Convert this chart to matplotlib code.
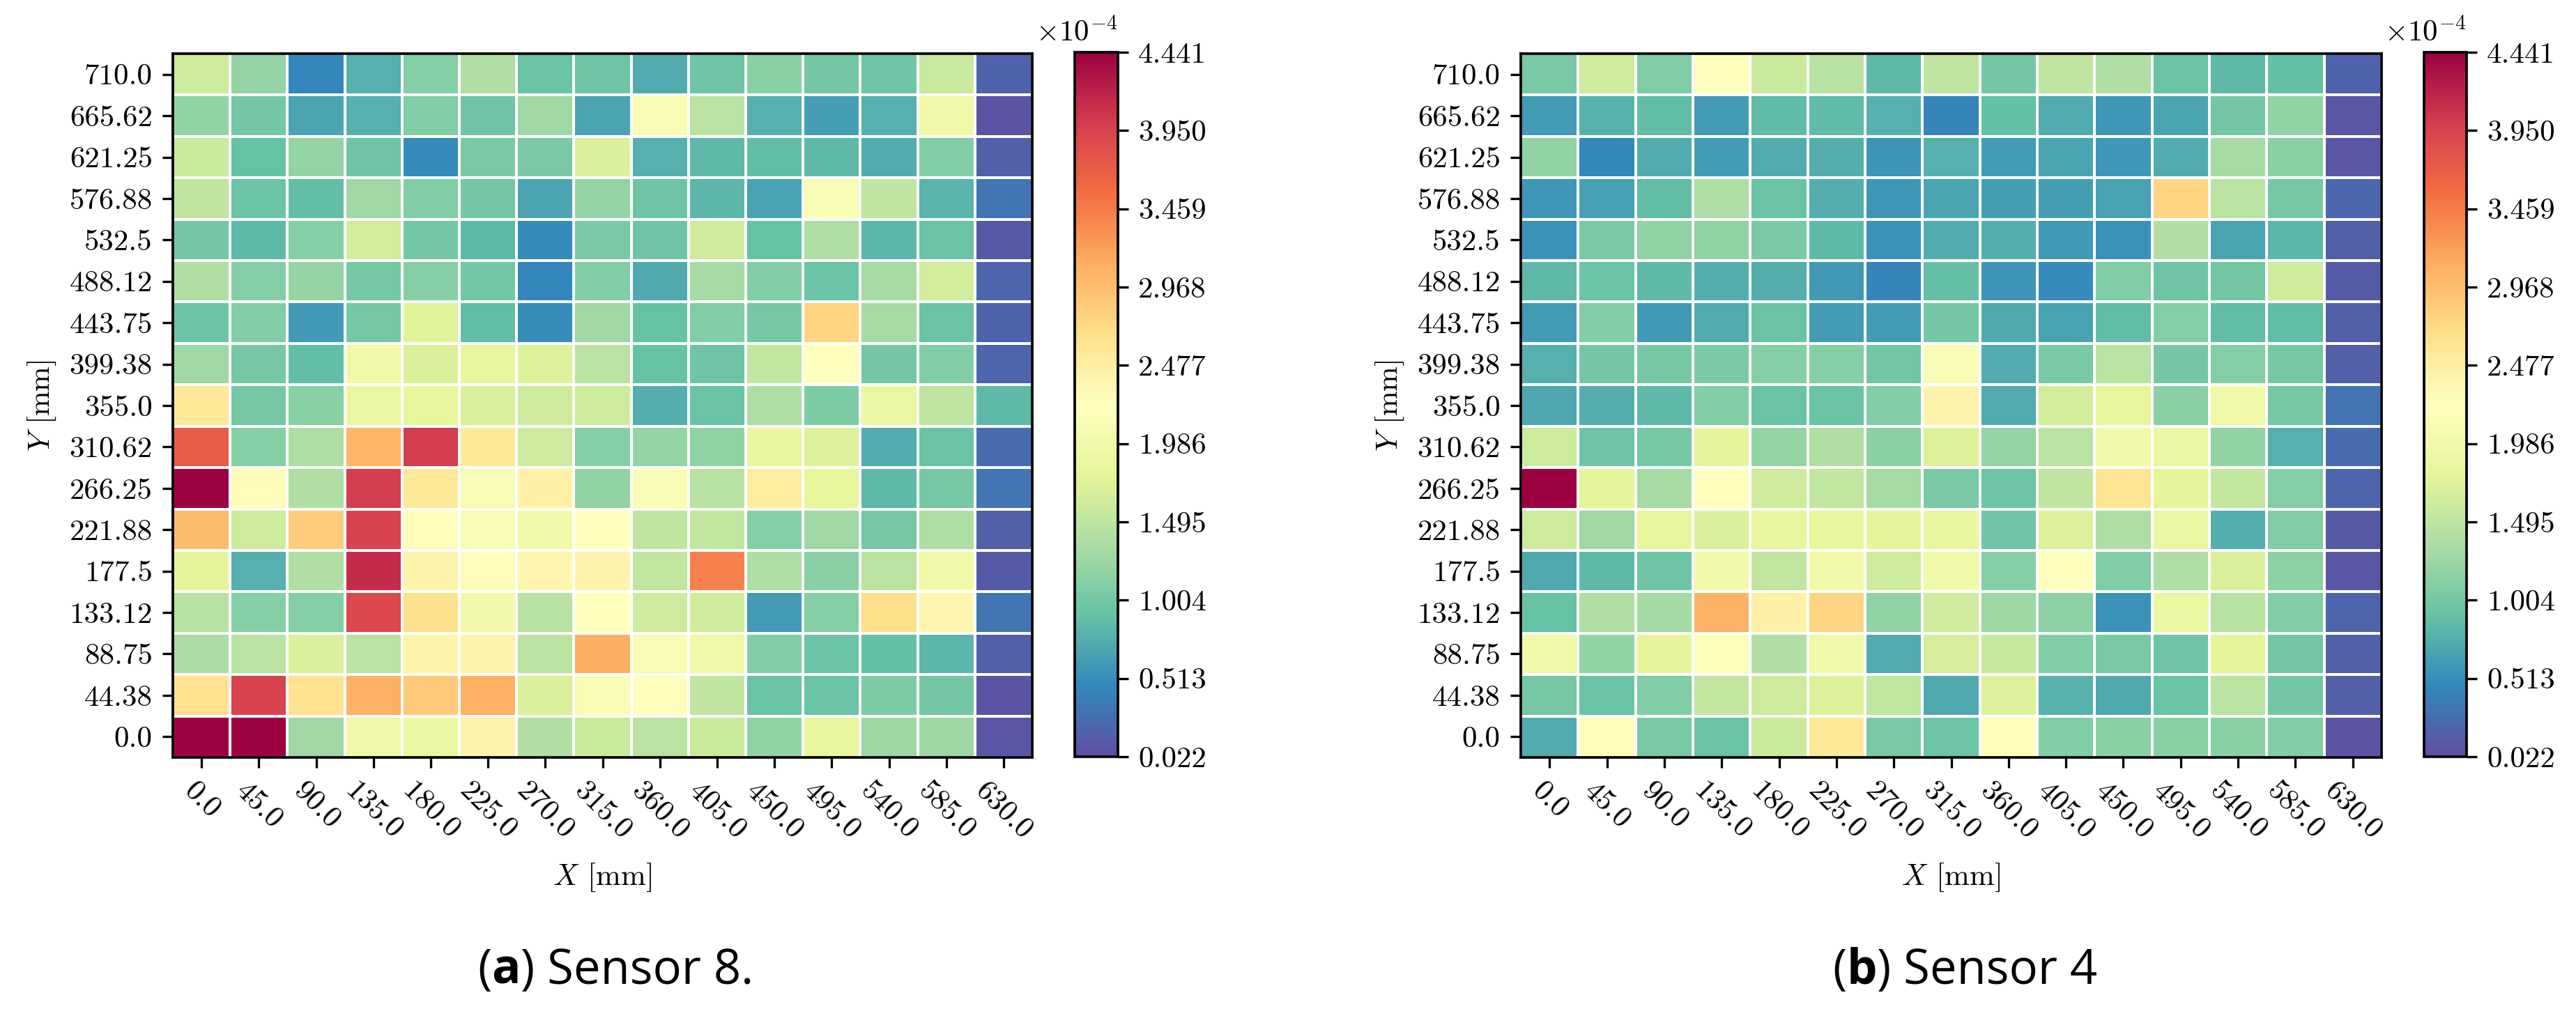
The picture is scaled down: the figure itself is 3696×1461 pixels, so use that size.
import numpy as np
import matplotlib
matplotlib.use("Agg")
import matplotlib.pyplot as plt

plt.rcParams["font.family"] = ["cmr10", "DejaVu Serif"]
plt.rcParams["mathtext.fontset"] = "cm"
plt.rcParams["axes.unicode_minus"] = False
plt.rcParams["axes.formatter.use_mathtext"] = True

# ---------------- data (values in units of 1e-4) ----------------
x_labels = ["0.0", "45.0", "90.0", "135.0", "180.0", "225.0", "270.0", "315.0",
            "360.0", "405.0", "450.0", "495.0", "540.0", "585.0", "630.0"]
y_labels = ["710.0", "665.62", "621.25", "576.88", "532.5", "488.12", "443.75",
            "399.38", "355.0", "310.62", "266.25", "221.88", "177.5", "133.12",
            "88.75", "44.38", "0.0"]  # top to bottom

sensor8 = [
    [1.60, 1.20, 0.47, 0.78, 1.10, 1.39, 0.92, 0.96, 0.73, 0.96, 1.13, 1.00, 0.97, 1.56, 0.18],
    [1.18, 1.00, 0.68, 0.78, 1.08, 0.96, 1.27, 0.68, 2.10, 1.47, 0.78, 0.63, 0.77, 1.97, 0.06],
    [1.58, 0.91, 1.20, 0.96, 0.50, 1.04, 1.04, 1.70, 0.77, 0.85, 0.87, 0.85, 0.73, 1.08, 0.15],
    [1.50, 0.95, 0.87, 1.28, 1.08, 1.00, 0.68, 1.20, 0.97, 0.83, 0.67, 2.10, 1.50, 0.80, 0.33],
    [1.00, 0.85, 1.12, 1.63, 1.00, 0.85, 0.49, 1.04, 0.97, 1.62, 0.91, 1.37, 0.83, 0.92, 0.12],
    [1.40, 1.10, 1.20, 1.02, 1.12, 0.98, 0.46, 1.08, 0.72, 1.32, 1.09, 0.94, 1.33, 1.63, 0.20],
    [0.95, 1.08, 0.60, 1.02, 1.75, 0.87, 0.52, 1.27, 0.91, 1.08, 1.02, 2.75, 1.32, 0.92, 0.19],
    [1.27, 1.02, 0.88, 1.97, 1.70, 1.85, 1.73, 1.47, 0.91, 0.97, 1.52, 2.20, 0.99, 1.08, 0.21],
    [2.55, 1.02, 1.13, 1.87, 1.83, 1.70, 1.60, 1.60, 0.76, 0.92, 1.38, 1.06, 1.87, 1.50, 0.84],
    [3.70, 1.12, 1.38, 3.05, 4.00, 2.55, 1.60, 1.12, 1.20, 1.17, 1.85, 1.72, 0.73, 0.93, 0.25],
    [4.441, 2.30, 1.40, 4.00, 2.55, 2.10, 2.45, 1.18, 2.10, 1.45, 2.50, 1.83, 0.85, 1.02, 0.33],
    [3.00, 1.60, 2.85, 3.95, 2.25, 2.10, 2.00, 2.23, 1.50, 1.52, 1.10, 1.28, 1.02, 1.37, 0.16],
    [1.80, 0.78, 1.40, 4.12, 2.40, 2.28, 2.38, 2.40, 1.52, 3.42, 1.37, 1.14, 1.46, 1.97, 0.12],
    [1.45, 1.12, 1.10, 3.90, 2.65, 2.00, 1.45, 2.23, 1.60, 1.62, 0.62, 1.10, 2.68, 2.38, 0.33],
    [1.36, 1.47, 1.70, 1.46, 2.40, 2.40, 1.46, 3.10, 2.10, 1.97, 1.08, 0.94, 0.90, 0.83, 0.15],
    [2.63, 3.95, 2.63, 3.08, 2.87, 3.08, 1.70, 2.10, 2.25, 1.50, 0.93, 0.93, 1.07, 0.99, 0.06],
    [4.441, 4.441, 1.28, 1.97, 1.90, 2.40, 1.39, 1.58, 1.47, 1.58, 1.17, 1.85, 1.26, 1.26, 0.08],
]

sensor4 = [
    [1.04, 1.62, 1.08, 2.22, 1.58, 1.45, 0.84, 1.50, 0.99, 1.50, 1.39, 0.93, 0.84, 0.90, 0.18],
    [0.61, 0.79, 0.88, 0.62, 0.86, 0.86, 0.77, 0.45, 0.90, 0.74, 0.59, 0.68, 0.99, 1.18, 0.08],
    [1.19, 0.47, 0.73, 0.62, 0.74, 0.76, 0.57, 0.78, 0.61, 0.68, 0.59, 0.74, 1.32, 1.13, 0.08],
    [0.59, 0.66, 0.87, 1.38, 0.93, 0.75, 0.58, 0.68, 0.63, 0.63, 0.67, 2.75, 1.47, 1.02, 0.22],
    [0.55, 1.04, 1.18, 1.17, 1.04, 0.85, 0.55, 0.74, 0.76, 0.60, 0.54, 1.40, 0.68, 0.83, 0.15],
    [0.85, 0.93, 0.85, 0.76, 0.76, 0.60, 0.45, 0.90, 0.56, 0.50, 1.08, 0.97, 1.00, 1.62, 0.14],
    [0.61, 1.08, 0.60, 0.74, 0.92, 0.61, 0.61, 1.00, 0.72, 0.67, 0.88, 1.10, 0.88, 0.88, 0.15],
    [0.77, 0.99, 1.02, 1.05, 1.12, 1.12, 0.98, 2.10, 0.73, 1.04, 1.46, 0.99, 1.10, 1.02, 0.15],
    [0.70, 0.75, 0.85, 1.08, 0.93, 0.93, 1.08, 2.40, 0.74, 1.63, 1.83, 1.13, 1.97, 1.02, 0.30],
    [1.60, 0.97, 1.02, 1.80, 1.20, 1.39, 1.14, 1.72, 1.20, 1.46, 2.00, 1.88, 1.18, 0.77, 0.25],
    [4.441, 1.80, 1.33, 2.23, 1.62, 1.52, 1.33, 1.04, 0.97, 1.50, 2.60, 1.80, 1.53, 1.10, 0.20],
    [1.60, 1.27, 1.85, 1.70, 1.85, 1.83, 1.80, 1.85, 0.96, 1.72, 1.37, 1.88, 0.75, 1.08, 0.12],
    [0.72, 0.85, 0.96, 2.00, 1.52, 2.00, 1.60, 1.97, 1.12, 2.23, 1.08, 1.37, 1.70, 1.16, 0.08],
    [0.91, 1.40, 1.30, 3.07, 2.45, 2.75, 1.19, 1.62, 1.25, 1.16, 0.54, 1.87, 1.44, 1.08, 0.20],
    [1.97, 1.19, 1.80, 2.15, 1.39, 1.97, 0.74, 1.67, 1.55, 1.08, 1.04, 0.96, 1.80, 0.99, 0.15],
    [1.02, 0.95, 1.08, 1.52, 1.60, 1.72, 1.52, 0.72, 1.72, 0.79, 0.72, 0.92, 1.47, 0.99, 0.15],
    [0.74, 2.25, 1.04, 0.92, 1.58, 2.55, 1.04, 0.96, 2.23, 1.08, 1.13, 1.13, 1.13, 1.08, 0.06],
]

vmin, vmax = 0.022, 4.441
cbar_ticks = np.linspace(vmin, vmax, 10)
captions = [("a", "Sensor 8."), ("b", "Sensor 4")]

# ---------------- figure ----------------
W, H, DPI = 3696, 1461, 300
fig = plt.figure(figsize=(W / DPI, H / DPI), dpi=DPI)

def fx(px):
    return px / W

def fy(px):  # top-origin pixel -> figure fraction
    return 1 - px / H

FS = 10.3
panels = [
    (sensor8, 248, 1481, 1542, 1604),
    (sensor4, 2182, 3417, 3478, 3539),
]
top, bot = 77, 1087
cap_x = [883, 2819]

for (data, x0, x1, c0, c1) in panels:
    Z = np.array(data)
    ax = fig.add_axes([fx(x0), fy(bot), fx(x1 - x0), (bot - top) / H])
    mesh = ax.pcolormesh(Z, cmap="Spectral_r", vmin=vmin, vmax=vmax,
                         edgecolors="white", linewidth=0.5)
    ax.set_xlim(0, Z.shape[1])
    ax.set_ylim(Z.shape[0], 0)
    ax.set_xticks(np.arange(Z.shape[1]) + 0.5)
    ax.set_xticklabels(x_labels, rotation=-45, fontsize=FS)
    ax.set_yticks(np.arange(Z.shape[0]) + 0.5)
    ax.set_yticklabels(y_labels, fontsize=FS)
    ax.set_xlabel("$X$ [mm]", fontsize=FS, labelpad=6)
    ax.set_ylabel("$Y$ [mm]", fontsize=FS)
    for s in ax.spines.values():
        s.set_linewidth(0.9)

    cax = fig.add_axes([fx(c0), fy(1086), fx(c1 - c0), (1086 - 75) / H])
    cb = fig.colorbar(mesh, cax=cax, ticks=cbar_ticks)
    cb.ax.set_yticklabels(["%.3f" % t for t in cbar_ticks], fontsize=FS)
    cb.outline.set_linewidth(0.9)
    cax.text(1.0, 1.008, r"$\times10^{-4}$", transform=cax.transAxes,
             ha="right", va="bottom", fontsize=FS)

# captions with bold letter
renderer = fig.canvas.get_renderer()
CFS = 16.5
for (letter, rest), xc in zip(captions, cap_x):
    parts = [("(", "normal"), (letter, "bold"), (") " + rest, "normal")]
    texts = [fig.text(0, fy(1412), s, fontsize=CFS, fontweight=w,
                      family=["Open Sans", "DejaVu Sans"], ha="left", va="baseline")
             for s, w in parts]
    widths = [t.get_window_extent(renderer).width for t in texts]
    x = xc - sum(widths) / 2
    for t, w in zip(texts, widths):
        t.set_x(fx(x))
        x += w

fig.savefig("out.png", dpi=DPI)
